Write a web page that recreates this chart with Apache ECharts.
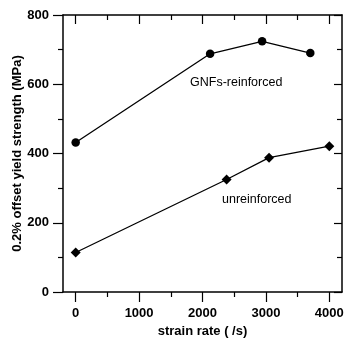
<!DOCTYPE html>
<html>
<head>
<meta charset="utf-8">
<script src="https://cdn.jsdelivr.net/npm/echarts@6/dist/echarts.min.js"></script>
<style>
html, body { margin: 0; padding: 0; background: #fff; }
#chart { width: 353px; height: 344px; }
</style>
</head>
<body>
<div id="chart"></div>
<script>
// 数据 GNFs-reinforced / unreinforced
var strainGNF = [0, 2120, 2940, 3700];
var yieldGNF = [432, 688, 724, 690];
var strainUn = [0, 2380, 3050, 4000];
var yieldUn = [114, 325, 388, 421];

function pairs(xs, ys) {
    var out = [];
    for (var i = 0; i < xs.length; i++) out.push([xs[i], ys[i]]);
    return out;
}

var font = 'Liberation Sans, Arial, sans-serif';
var black = '#000';
var boldText = { color: black, fontWeight: 'bold', fontSize: 13, fontFamily: font };
var chart = echarts.init(document.getElementById('chart'));

// grid0: 数据+边框 (x: -200~4200), grid1: 只画x刻度 (0~4000)
var L = 63, R = 11, T = 15, B = 52;
var plotW = 353 - L - R;
var pxPer = plotW / 4400;
var L1 = L + 200 * pxPer, R1 = R + 200 * pxPer;

var frameLine = { show: true, onZero: false, lineStyle: { color: black, width: 1.5 } };
var noLine = { show: false, onZero: false };
var tickStyle = { color: black, width: 1.2 };

var option = {
    animation: false,
    grid: [
        { left: L, right: R, top: T, bottom: B },
        { left: L1, right: R1, top: T, bottom: B }
    ],
    xAxis: [
        { type: 'value', gridIndex: 0, position: 'bottom', min: -200, max: 4200,
          axisLine: frameLine, axisTick: { show: false }, axisLabel: { show: false }, splitLine: { show: false } },
        { type: 'value', gridIndex: 0, position: 'top', min: -200, max: 4200,
          axisLine: frameLine, axisTick: { show: false }, axisLabel: { show: false }, splitLine: { show: false } },
        { type: 'value', gridIndex: 1, position: 'bottom', min: 0, max: 4000, interval: 1000,
          axisLine: noLine,
          axisTick: { show: true, inside: false, length: 10, lineStyle: tickStyle },
          minorTick: { show: true, splitNumber: 2, length: 5, lineStyle: tickStyle },
          axisLabel: { show: true, margin: 15, color: black, fontWeight: 'bold', fontSize: 13, fontFamily: font,
                       formatter: function (v) { return String(v); } },
          splitLine: { show: false },
          name: 'strain rate ( /s)', nameLocation: 'middle', nameGap: 31, nameTextStyle: boldText },
        { type: 'value', gridIndex: 1, position: 'top', min: 0, max: 4000, interval: 1000,
          axisLine: noLine,
          axisTick: { show: true, inside: true, length: 9, lineStyle: tickStyle },
          minorTick: { show: true, splitNumber: 2, length: 5, lineStyle: tickStyle },
          axisLabel: { show: false }, splitLine: { show: false } }
    ],
    yAxis: [
        { type: 'value', gridIndex: 0, position: 'left', min: 0, max: 800, interval: 200,
          axisLine: frameLine,
          axisTick: { show: true, inside: false, length: 10, lineStyle: tickStyle },
          minorTick: { show: true, splitNumber: 2, length: 5, lineStyle: tickStyle },
          axisLabel: { show: true, margin: 14, color: black, fontWeight: 'bold', fontSize: 13, fontFamily: font },
          splitLine: { show: false },
          name: '0.2% offset yield strength (MPa)', nameLocation: 'middle', nameGap: 39,
          nameMoveOverlap: false, nameTextStyle: boldText },
        { type: 'value', gridIndex: 0, position: 'right', min: 0, max: 800, interval: 200,
          axisLine: frameLine,
          axisTick: { show: true, inside: true, length: 8, lineStyle: tickStyle },
          minorTick: { show: true, splitNumber: 2, length: 5, lineStyle: tickStyle },
          axisLabel: { show: false }, splitLine: { show: false } },
        { type: 'value', gridIndex: 1, min: 0, max: 800, show: false }
    ],
    series: [
        {
            type: 'line', name: 'GNFs-reinforced', xAxisIndex: 0, yAxisIndex: 0,
            data: pairs(strainGNF, yieldGNF),
            symbol: 'circle', symbolSize: 8.5,
            itemStyle: { color: black },
            lineStyle: { color: black, width: 1.3 }
        },
        {
            type: 'line', name: 'unreinforced', xAxisIndex: 0, yAxisIndex: 0,
            data: pairs(strainUn, yieldUn),
            symbol: 'diamond', symbolSize: 10,
            itemStyle: { color: black },
            lineStyle: { color: black, width: 1.3 }
        }
    ],
    graphic: [
        { type: 'text', left: 190, top: 76,
          style: { text: 'GNFs-reinforced', fill: black, font: '12.5px ' + font } },
        { type: 'text', left: 222, top: 193,
          style: { text: 'unreinforced', fill: black, font: '12.5px ' + font } }
    ]
};
chart.setOption(option);
</script>
</body>
</html>
